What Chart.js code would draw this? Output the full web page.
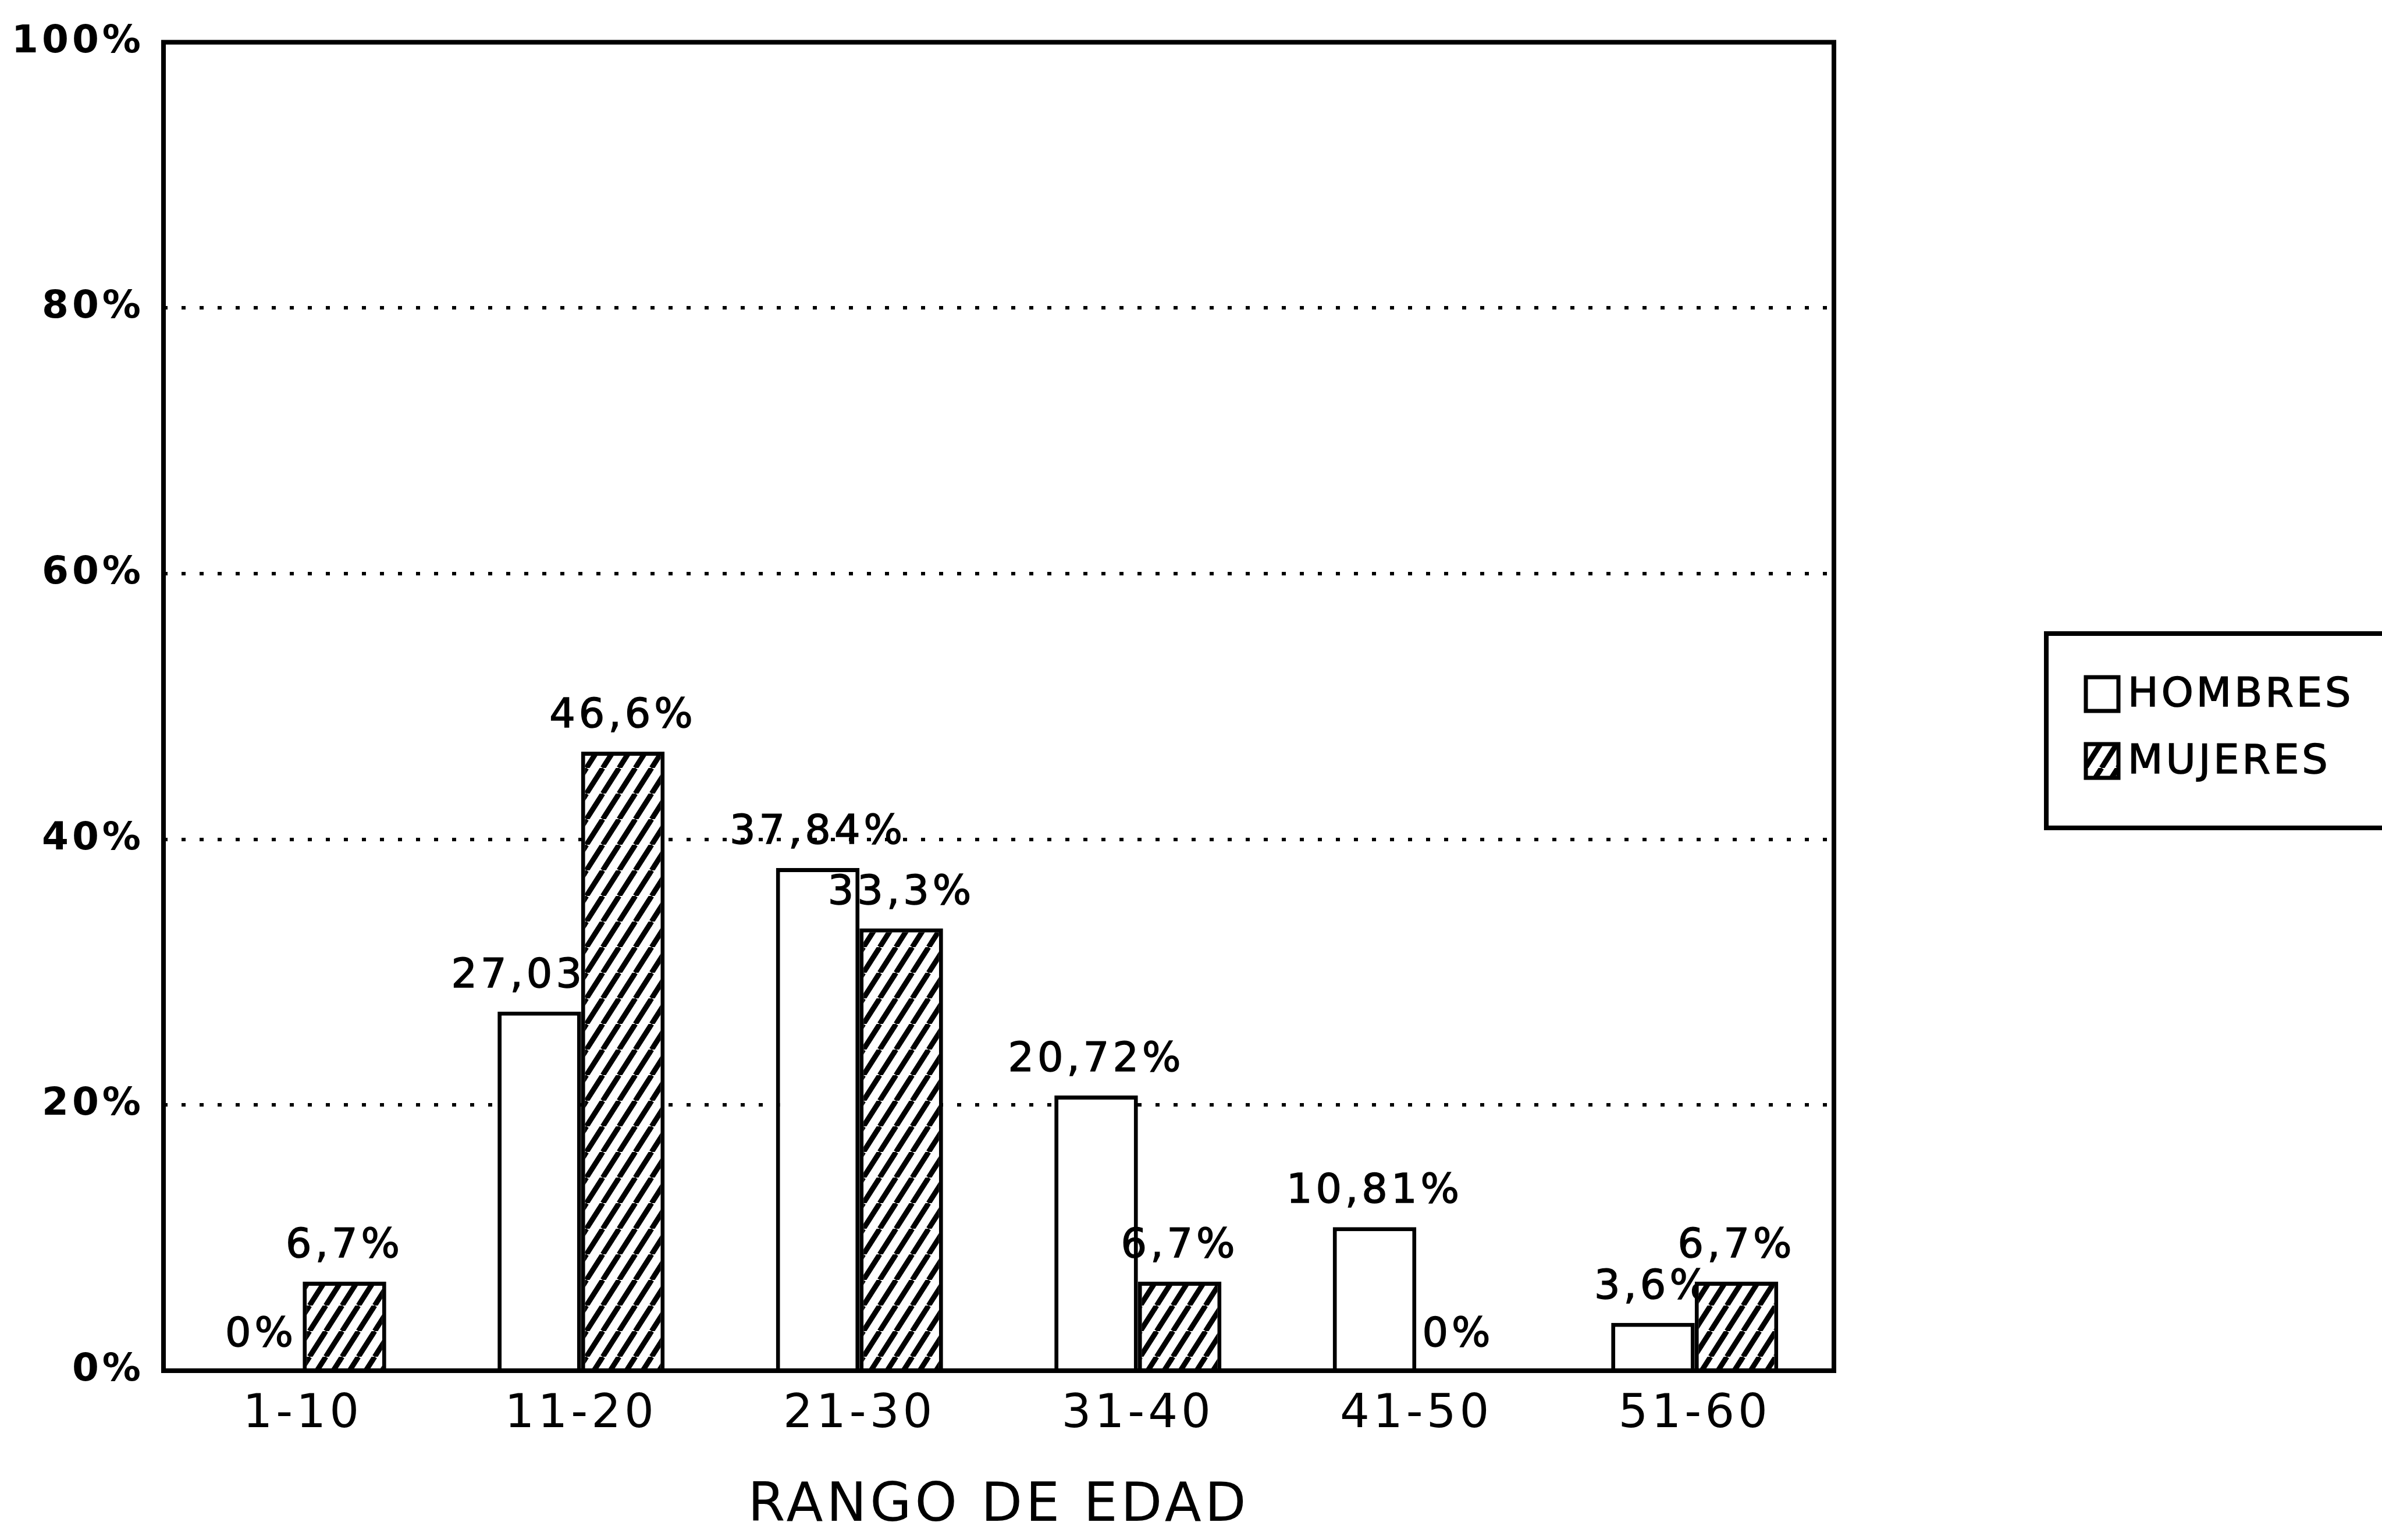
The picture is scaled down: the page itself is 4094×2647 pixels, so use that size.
<!DOCTYPE html>
<html>
<head>
<meta charset="utf-8">
<title>Rango de edad</title>
<script src="https://cdn.jsdelivr.net/npm/chart.js@4.4.0/dist/chart.umd.min.js"></script>
<style>
  html, body { margin: 0; padding: 0; background: #fff; }
  #wrap { width: 4094px; height: 2647px; }
</style>
</head>
<body>
<div id="wrap"><canvas id="edad-chart"></canvas></div>
<script>
  "use strict";

  // datos
  var rangos = ["1-10", "11-20", "21-30", "31-40", "41-50", "51-60"];
  var hombres = [0, 27.03, 37.84, 20.72, 10.81, 3.6];
  var mujeres = [6.7, 46.6, 33.3, 6.7, 0, 6.7];
  var series = ["HOMBRES", "MUJERES"];
  var yTicks = [0, 20, 40, 60, 80, 100];
  var xTitle = "RANGO DE EDAD";

  var FONT = "'DejaVu Sans', sans-serif";

  // rayado diagonal para mujeres
  function makeHatch() {
    var c = document.createElement("canvas");
    var w = 28, h = 44;
    c.width = w;
    c.height = h;
    var g = c.getContext("2d");
    g.fillStyle = "#fff";
    g.fillRect(0, 0, w, h);
    g.strokeStyle = "#000";
    g.lineWidth = 9;
    for (var i = -1; i <= 1; i++) {
      g.beginPath();
      g.moveTo(i * w, h);
      g.lineTo(i * w + w, 0);
      g.stroke();
    }
    return g.createPattern(c, "repeat");
  }
  var hatch = makeHatch();

  function fmt(v) {
    return String(v).replace(".", ",") + "%";
  }

  // etiquetas de valor encima de cada barra
  function drawLabels(chart, idx) {
    var ctx = chart.ctx;
    var meta = chart.getDatasetMeta(idx);
    var data = chart.data.datasets[idx].data;
    ctx.save();
    ctx.font = "70px " + FONT;
    ctx.letterSpacing = "6px";
    ctx.fillStyle = "#000";
    ctx.strokeStyle = "#000";
    ctx.lineWidth = 1.5;
    ctx.textAlign = "center";
    ctx.textBaseline = "alphabetic";
    meta.data.forEach(function (bar, i) {
      ctx.fillText(fmt(data[i]), bar.x, bar.y - 42);
      ctx.strokeText(fmt(data[i]), bar.x, bar.y - 42);
    });
    ctx.restore();
  }

  // marco del area
  function drawFrame(chart) {
    var a = chart.chartArea;
    var ctx = chart.ctx;
    ctx.save();
    ctx.strokeStyle = "#000";
    ctx.lineWidth = 8;
    ctx.strokeRect(a.left, a.top, a.right - a.left, a.bottom - a.top);
    ctx.restore();
  }

  // leyenda con caja
  function drawLegend(chart) {
    var ctx = chart.ctx;
    var a = chart.chartArea;
    var bx = a.right + 365, by = 1089, bh = 334;
    ctx.save();
    ctx.strokeStyle = "#000";
    ctx.lineWidth = 8;
    ctx.strokeRect(bx, by, chart.width - bx + 20, bh);
    ctx.font = "70px " + FONT;
    ctx.letterSpacing = "5px";
    ctx.textAlign = "left";
    ctx.textBaseline = "middle";
    var rows = [1193, 1308];
    chart.data.datasets.forEach(function (ds, i) {
      var cy = rows[i];
      ctx.fillStyle = ds.backgroundColor;
      ctx.fillRect(bx + 68, cy - 29, 56, 58);
      ctx.lineWidth = 7;
      ctx.strokeRect(bx + 68, cy - 29, 56, 58);
      ctx.fillStyle = "#000";
      ctx.lineWidth = 1.5;
      ctx.fillText(ds.label, bx + 140, cy + 3);
      ctx.strokeText(ds.label, bx + 140, cy + 3);
    });
    ctx.restore();
  }

  var extras = {
    id: "extras",
    beforeDraw: function (chart) {
      chart.ctx.letterSpacing = "6px";
    },
    beforeDatasetsDraw: function (chart) {
      drawLabels(chart, 0);
    },
    afterDatasetsDraw: function (chart) {
      drawLabels(chart, 1);
      drawFrame(chart);
    },
    afterDraw: function (chart) {
      drawLegend(chart);
    }
  };

  var ctx = document.getElementById("edad-chart").getContext("2d");
  var chart = new Chart(ctx, {
    type: "bar",
    data: {
      labels: rangos,
      datasets: [
        {
          label: series[0],
          data: hombres,
          backgroundColor: "#fff",
          borderColor: "#000",
          borderWidth: 7,
          categoryPercentage: 0.6,
          barPercentage: 1.0
        },
        {
          label: series[1],
          data: mujeres,
          backgroundColor: hatch,
          borderColor: "#000",
          borderWidth: 7,
          categoryPercentage: 0.6,
          barPercentage: 1.0
        }
      ]
    },
    options: {
      responsive: true,
      maintainAspectRatio: false,
      animation: false,
      layout: { padding: { top: 63, right: 942, bottom: 0, left: 0 } },
      plugins: {
        legend: { display: false },
        tooltip: { enabled: false }
      },
      scales: {
        x: {
          afterFit: function (s) { s.height = 291; },
          grid: { display: false, drawTicks: false },
          border: { display: false },
          ticks: {
            padding: 28,
            color: "#000",
            font: { family: FONT, size: 80 }
          },
          title: {
            display: true,
            text: xTitle,
            color: "#000",
            font: { family: FONT, size: 92 },
            padding: { top: 0, bottom: 2 }
          }
        },
        y: {
          min: 0,
          max: 100,
          afterFit: function (s) { s.width = 281; },
          afterBuildTicks: function (s) {
            s.ticks = yTicks.map(function (v) { return { value: v }; });
          },
          grid: {
            drawTicks: false,
            lineWidth: 6,
            color: function (c) {
              var v = c.tick ? c.tick.value : 0;
              return v === 0 || v === 100 ? "rgba(0,0,0,0)" : "#000";
            }
          },
          border: { display: false, dash: [7, 24] },
          ticks: {
            padding: 33,
            color: "#000",
            font: { family: FONT, size: 66, weight: "bold" },
            callback: function (v) { return v + "%"; }
          }
        }
      }
    },
    plugins: [extras]
  });
</script>
</body>
</html>
